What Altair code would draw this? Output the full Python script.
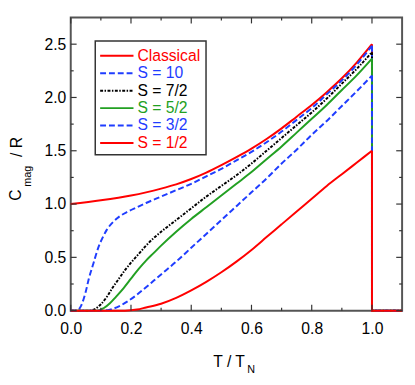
import altair as alt
import pandas as pd

# ---- data (T/T_N, C_mag/R) ----
T_classical = [0.0, 0.1, 0.2, 0.25, 0.3, 0.35, 0.4, 0.45, 0.5, 0.55, 0.6, 0.65, 0.7, 0.75, 0.8, 0.85, 0.9, 0.95, 1.0, 1.0, 1.1]
C_classical = [1.00, 1.035, 1.08, 1.11, 1.145, 1.185, 1.235, 1.295, 1.365, 1.44, 1.52, 1.61, 1.71, 1.82, 1.93, 2.05, 2.18, 2.33, 2.50, 0.0, 0.0]

T_s10 = [0.0, 0.02, 0.035, 0.05, 0.06, 0.075, 0.09, 0.105, 0.12, 0.14, 0.16, 0.19, 0.22, 0.25, 0.3, 0.35, 0.4, 0.45, 0.5, 0.55, 0.6, 0.65, 0.7, 0.75, 0.8, 0.85, 0.9, 0.95, 1.0, 1.0, 1.1]
C_s10 = [0.0, 0.0, 0.05, 0.18, 0.30, 0.44, 0.58, 0.68, 0.76, 0.83, 0.88, 0.93, 0.97, 1.01, 1.07, 1.13, 1.19, 1.26, 1.33, 1.41, 1.49, 1.58, 1.68, 1.79, 1.90, 2.03, 2.16, 2.31, 2.485, 0.0, 0.0]

T_s72 = [0.0, 0.06, 0.08, 0.1, 0.12, 0.14, 0.16, 0.18, 0.2, 0.225, 0.25, 0.275, 0.3, 0.35, 0.4, 0.45, 0.5, 0.55, 0.6, 0.65, 0.7, 0.75, 0.8, 0.85, 0.9, 0.95, 1.0, 1.0, 1.1]
C_s72 = [0.0, 0.0, 0.015, 0.06, 0.13, 0.22, 0.30, 0.38, 0.45, 0.53, 0.61, 0.68, 0.74, 0.85, 0.96, 1.07, 1.17, 1.27, 1.38, 1.50, 1.62, 1.74, 1.86, 1.99, 2.13, 2.27, 2.425, 0.0, 0.0]

T_s52 = [0.0, 0.09, 0.11, 0.13, 0.15, 0.175, 0.2, 0.225, 0.25, 0.275, 0.3, 0.35, 0.4, 0.45, 0.5, 0.55, 0.6, 0.65, 0.7, 0.75, 0.8, 0.85, 0.9, 0.95, 1.0, 1.0, 1.1]
C_s52 = [0.0, 0.0, 0.025, 0.07, 0.13, 0.21, 0.30, 0.39, 0.47, 0.54, 0.61, 0.74, 0.86, 0.97, 1.08, 1.19, 1.30, 1.42, 1.54, 1.67, 1.80, 1.93, 2.07, 2.21, 2.365, 0.0, 0.0]

T_s32 = [0.0, 0.1, 0.13, 0.16, 0.19, 0.22, 0.25, 0.275, 0.3, 0.35, 0.4, 0.45, 0.5, 0.55, 0.6, 0.65, 0.7, 0.75, 0.8, 0.85, 0.9, 0.95, 1.0, 1.0, 1.1]
C_s32 = [0.0, 0.0, 0.01, 0.04, 0.09, 0.15, 0.22, 0.28, 0.34, 0.46, 0.59, 0.72, 0.85, 0.98, 1.11, 1.24, 1.38, 1.51, 1.65, 1.78, 1.92, 2.06, 2.205, 0.0, 0.0]

T_s12 = [0.0, 0.18, 0.22, 0.25, 0.3, 0.35, 0.4, 0.45, 0.5, 0.55, 0.6, 0.65, 0.7, 0.75, 0.8, 0.85, 0.9, 0.95, 1.0, 1.0, 1.1]
C_s12 = [0.0, 0.0, 0.01, 0.03, 0.065, 0.12, 0.19, 0.27, 0.36, 0.46, 0.57, 0.69, 0.81, 0.93, 1.05, 1.17, 1.28, 1.39, 1.50, 0.0, 0.0]

labels = ["Classical", "S = 10", "S = 7/2", "S = 5/2", "S = 3/2", "S = 1/2"]
x_major = [0.0, 0.2, 0.4, 0.6, 0.8, 1.0]
x_minor = [0.1, 0.3, 0.5, 0.7, 0.9]
y_major = [0.0, 0.5, 1.0, 1.5, 2.0, 2.5]
y_minor = [0.25, 0.75, 1.25, 1.75, 2.25]

# ---- styling ----
W, H = 338, 299
RED, BLUE, BLACK, GREEN = "#ff0000", "#1f3dff", "#000000", "#22a022"
FONT = "Liberation Sans"
series = [
    (T_classical, C_classical, RED, None),
    (T_s10, C_s10, BLUE, [6, 3]),
    (T_s72, C_s72, BLACK, [3, 1.5, 1.5, 1.5]),
    (T_s52, C_s52, GREEN, None),
    (T_s32, C_s32, BLUE, [6, 3]),
    (T_s12, C_s12, RED, None),
]

xs = alt.Scale(domain=[0, 1.1], nice=False, zero=False)
ys = alt.Scale(domain=[0, 2.75], nice=False, zero=False)
x_axis = alt.Axis(values=x_major, format=".1f", title=None, ticks=False, tickSize=0,
                  domain=False, grid=False, labelPadding=10, labelFontSize=16,
                  labelFont=FONT, labelColor="#000", labelFlush=False, labelOverlap=False,
                  labelBound=False)
y_axis = alt.Axis(values=y_major, format=".1f", title=None, ticks=False, tickSize=0,
                  domain=False, grid=False, labelPadding=5, labelFontSize=16,
                  labelFont=FONT, labelColor="#000", labelFlush=False, labelOverlap=False,
                  labelBound=False)

def X(field="T"):
    return alt.X(f"{field}:Q", scale=xs, axis=x_axis)

def Y(field="C"):
    return alt.Y(f"{field}:Q", scale=ys, axis=y_axis)

layers = []
for T, C, col, dash in series:
    k = T.index(1.0)
    smooth = pd.DataFrame({"T": T[:k + 1], "C": C[:k + 1], "i": list(range(k + 1))})
    drop = pd.DataFrame({"T": T[k:], "C": C[k:], "i": list(range(len(T) - k))})
    kw = dict(color=col, strokeWidth=2)
    if dash:
        kw["strokeDash"] = dash
    layers.append(alt.Chart(smooth).mark_line(interpolate="monotone", **kw).encode(x=X(), y=Y(), order="i:Q"))
    layers.append(alt.Chart(drop).mark_line(**kw).encode(x=X(), y=Y(), order="i:Q"))

TICK = "#333333"
def xticks(vals, L):
    d = pd.DataFrame({"T": vals})
    return [
        alt.Chart(d).mark_rule(color=TICK, strokeWidth=1.2).encode(x=X(), y=alt.value(H), y2=alt.value(H - L)),
        alt.Chart(d).mark_rule(color=TICK, strokeWidth=1.2).encode(x=X(), y=alt.value(0), y2=alt.value(L)),
    ]

def yticks(vals, L):
    d = pd.DataFrame({"C": vals})
    return [
        alt.Chart(d).mark_rule(color=TICK, strokeWidth=1.2).encode(y=Y(), x=alt.value(0), x2=alt.value(L)),
        alt.Chart(d).mark_rule(color=TICK, strokeWidth=1.2).encode(y=Y(), x=alt.value(W), x2=alt.value(W - L)),
    ]

layers += xticks(x_major, 6) + xticks(x_minor, 3) + yticks(y_major, 6) + yticks(y_minor, 3)

one = alt.Data(values=[{}])

# legend
layers.append(alt.Chart(one).mark_rect(fill="white", stroke="#333333", strokeWidth=1.5).encode(
    x=alt.value(25), x2=alt.value(138), y=alt.value(24), y2=alt.value(140)))
leg_colors = [RED, BLUE, BLACK, GREEN, BLUE, RED]
for k, lab in enumerate(labels):
    yy = 39 + k * 17.8
    _, _, col, dash = series[k]
    kw = dict(color=col, strokeWidth=2)
    if dash:
        kw["strokeDash"] = dash
    layers.append(alt.Chart(one).mark_rule(**kw).encode(
        x=alt.value(30), x2=alt.value(64), y=alt.value(yy)))
    layers.append(alt.Chart(one).mark_text(align="left", baseline="middle", fontSize=16,
                                           font=FONT, color=leg_colors[k]).encode(
        x=alt.value(68), y=alt.value(yy), text=alt.value(lab)))

# axis titles with subscripts
def txt(s, x, y, size, angle=0, align="center"):
    return alt.Chart(one).mark_text(align=align, baseline="middle", fontSize=size, font=FONT,
                                    color="#000", angle=angle).encode(
        x=alt.value(x), y=alt.value(y), text=alt.value(s))

layers += [
    txt("T / T", 161.5, 351, 16),
    txt("N", 180, 360, 11, align="left"),
    txt("C", -56, 181, 16, angle=270),
    txt("mag", -44, 162, 11, angle=270),
    txt("/ R", -55, 132, 16, angle=270),
]

chart = alt.layer(*layers).properties(
    width=W, height=H,
    autosize=alt.AutoSizeParams(type="none"),
    padding={"left": 64, "top": 6, "right": 5, "bottom": 66},
).configure_view(stroke="#555555", strokeWidth=2)

chart.save("out.html", embed_options={"renderer": "svg", "actions": False})
